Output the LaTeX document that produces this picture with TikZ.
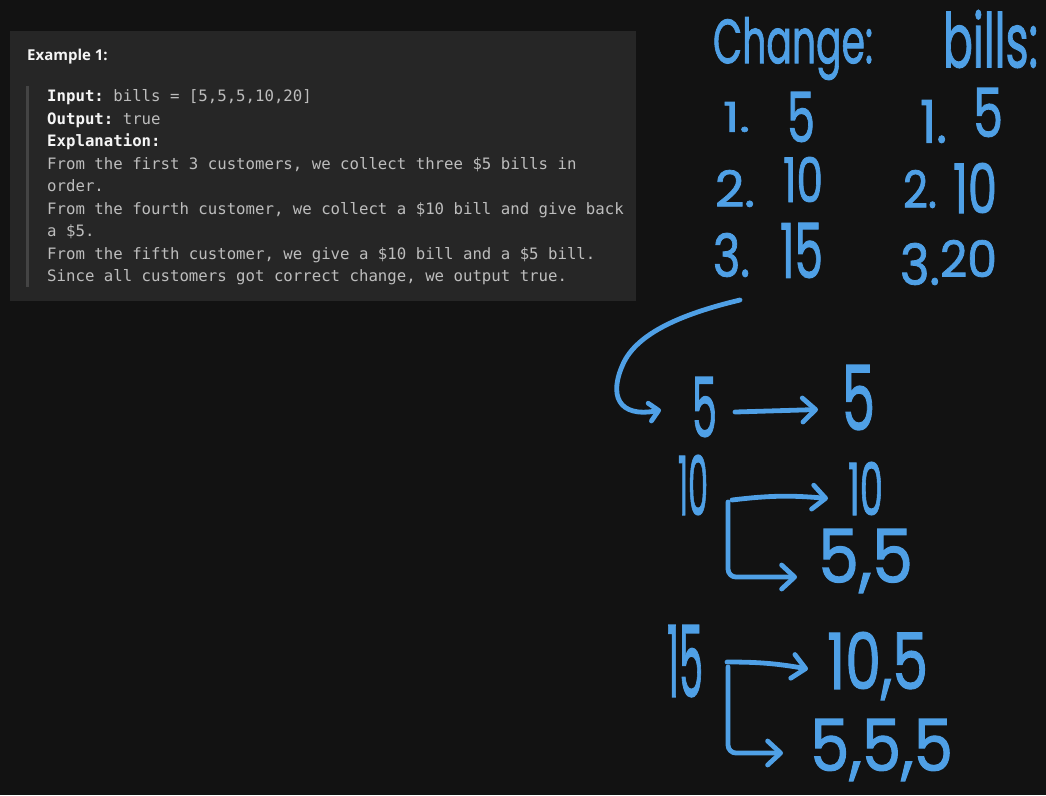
\documentclass[tikz,border=0pt]{standalone}
\usepackage{fontspec}
\usepackage{graphicx}
\usetikzlibrary{arrows.meta}
\newfontfamily\handf[FakeBold=1.5]{Poppins}
\newfontfamily\monof{DejaVu Sans Mono}
\newfontfamily\uif{Open Sans}
\definecolor{bg}{HTML}{121212}
\definecolor{panel}{HTML}{262626}
\definecolor{qbar}{HTML}{444444}
\definecolor{txtgray}{HTML}{BDBDBD}
\definecolor{txtwhite}{HTML}{F5F5F5}
\definecolor{ink}{HTML}{4FA0E6}
\tikzset{
  hand/.style={inner sep=0pt, outer sep=0pt, text=ink, font=\handf, anchor=north west},
  mono/.style={inner sep=0pt, text=txtgray, font=\monof\fontsize{15.7}{18}\selectfont, anchor=base west},
  stroke/.style={draw=ink, line width=4.8pt, line cap=round, line join=round},
  arr/.style={stroke, -{Straight Barb[length=13pt,width=24pt,line cap=round,line join=round]}},
  smallarr/.style={stroke, -{Straight Barb[length=9pt,width=18pt,line cap=round,line join=round]}}
}
\newcommand\hw[6]{\node[hand] (#1) at (#2,-#3) {\resizebox*{#4pt}{#5pt}{#6}};}
\newcommand\ml[3]{\node[mono] (#1) at (47,-#2) {#3};}
\newcommand\lbl[1]{\textcolor{txtwhite}{\bfseries #1}}
\begin{document}
\begin{tikzpicture}[x=1pt,y=1pt]
\fill[bg] (0,0) rectangle (1046,-795);
\useasboundingbox (0,0) rectangle (1046,-795);
% panel
\fill[panel] (10,-31) rectangle (636,-301);
\fill[qbar] (25.5,-86) rectangle (28.5,-287);
\node[inner sep=0pt, anchor=base west, text=txtwhite, font=\uif\bfseries\fontsize{15}{18}\selectfont] (title) at (27,-60.7) {Example 1:};
\ml{l1}{101.5}{\lbl{Input:}\ bills = [5,5,5,10,20]}
\ml{l2}{124}{\lbl{Output:}\ true}
\ml{l3}{146.5}{\lbl{Explanation:}}
\ml{l4}{169}{From the first 3 customers, we collect three \$5 bills in}
\ml{l5}{191.5}{order.}
\ml{l6}{214}{From the fourth customer, we collect a \$10 bill and give back}
\ml{l7}{236.5}{a \$5.}
\ml{l8}{259}{From the fifth customer, we give a \$10 bill and a \$5 bill.}
\ml{l9}{281.5}{Since all customers got correct change, we output true.}
% handwriting: headers and lists
\hw{change}{713}{17}{160}{63}{Change:}
\hw{bills}{943}{10}{95}{58}{bills:}
\hw{nAl}{723}{102}{27}{30}{1.}
\hw{vAl}{787}{92}{28}{50}{5}
\hw{nBl}{715}{170}{40}{37}{2.}
\hw{vBl}{783}{157}{40}{45}{10}
\hw{nCl}{713}{233}{37}{44}{3.}
\hw{vCl}{780}{223}{43}{55}{15}
\hw{nAr}{920}{100}{27}{43}{1.}
\hw{vAr}{973}{88}{30}{49}{5}
\hw{nBr}{903}{170}{34}{38}{2.}
\hw{vBr}{953}{163}{44}{50}{10}
\hw{nCr}{900}{243}{40}{42}{3.}
\hw{vCr}{940}{240}{57}{37}{20}
% handwriting: breakdown
\hw{fiveA}{692}{377}{25}{60}{5}
\hw{fiveB}{842}{365}{33}{65}{5}
\hw{tenA}{678}{455}{30}{60}{10}
\hw{tenB}{848}{462}{35}{53}{10}
\hw{fivefive}{818}{529}{95}{64}{5,5}
\hw{fifteen}{667}{625}{36}{72}{15}
\hw{tenfive}{827}{632}{101}{68}{10,5}
\hw{fives}{810}{719}{143}{62}{5,5,5}
% connectors
\coordinate (cstart) at (740,-300);
\coordinate (cend) at (661,-410);
\draw[smallarr] (cstart) .. controls (690,-312) and (640,-330) .. (624,-362)
  .. controls (608,-395) and (618,-418) .. (cend);
\draw[arr] ([xshift=18pt,yshift=-5pt]fiveA.east) -- ([xshift=-24pt,yshift=-12pt]fiveB.west);
\draw[arr] ([xshift=24pt,yshift=-15pt]tenA.east) to[bend left=6] ([xshift=-20pt,yshift=-10pt]tenB.west);
\coordinate (bten) at (728,-502);
\draw[arr, rounded corners=8pt] (bten) |- ([xshift=-21pt,yshift=-16pt]fivefive.west);
\draw[arr] ([xshift=24pt,yshift=-1pt]fifteen.east) to[bend left=5] ([xshift=-19pt,yshift=-3pt]tenfive.west);
\coordinate (bfif) at (728,-667);
\draw[arr, rounded corners=8pt] (bfif) |- ([xshift=-27pt,yshift=-3pt]fives.west);
\end{tikzpicture}
\end{document}
